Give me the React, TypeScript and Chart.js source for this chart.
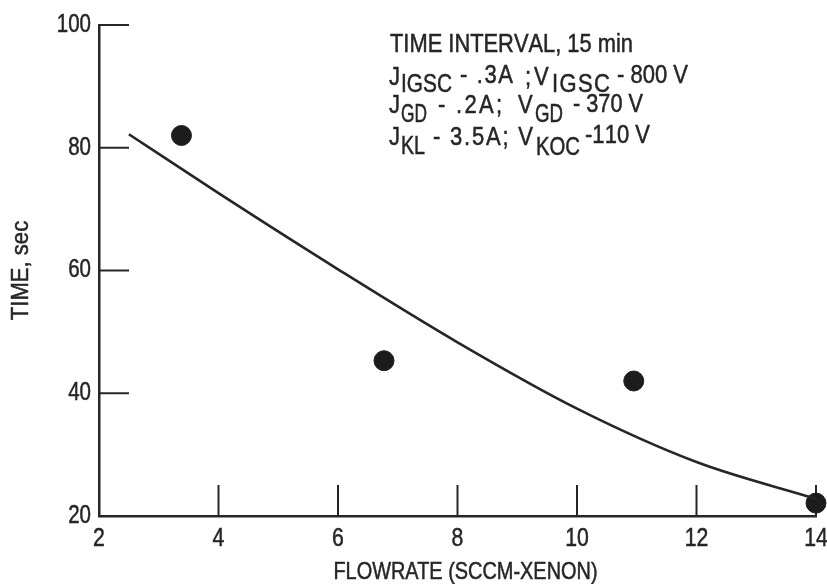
import React, { useEffect, useRef } from 'react';
import { Chart, registerables } from 'chart.js';

Chart.register(...registerables);

// ---- data ----
const measuredFlow = [3.38, 6.77, 10.95, 14.0];
const measuredTime = [82.0, 45.3, 42.0, 22.1];
const fitFlow = [2.5, 4, 6, 8, 10, 12, 14];
const fitTime = [82.2, 72.6, 60.2, 48.3, 37.5, 28.8, 22.8];
const xTicks = [2, 4, 6, 8, 10, 12, 14];
const yTicks = [20, 40, 60, 80, 100];
const xTitle = 'FLOWRATE (SCCM-XENON)';
const yTitle = 'TIME, sec';
// annotation text pieces (main text and subscripts)
const note1 = ['TIME INTERVAL, 15 min'];
const note2 = ['J', 'IGSC', '- .3A', ';', 'V', 'IGSC', '- 800 V'];
const note3 = ['J', 'GD', '- .2A;', 'V', 'GD', '- 370 V'];
const note4 = ['J', 'KL', '- 3.5A; V', 'KOC', '-110 V'];

// layout of annotation pieces: [left, right, baseline] (right = 0 -> natural width)
const noteLayout: number[][][] = [
  [[390, 633, 52]],
  [[389, 0, 85], [401, 452, 92], [460, 513, 83], [525, 0, 85], [534, 0, 85], [552, 610, 92], [617, 688, 83]],
  [[389, 0, 113], [401, 427, 122], [438, 502, 113], [518, 0, 113], [535, 563, 122], [573, 643, 112]],
  [[389, 0, 145], [401, 425, 154], [433, 533, 145], [536, 580, 155], [585, 650, 143]],
];

const INK = '#262626';
const FAMILY = '"Liberation Sans", Arial, sans-serif';
const SX = 0.85;
const NOTE_SX = 0.88;

function drawText(ctx: CanvasRenderingContext2D, text: string, x: number, y: number, size: number, align: CanvasTextAlign, baseline: CanvasTextBaseline = 'alphabetic', sx = SX) {
  ctx.save();
  ctx.font = `${size}px ${FAMILY}`;
  ctx.fillStyle = INK;
  ctx.strokeStyle = INK;
  ctx.lineWidth = 0.5;
  ctx.textAlign = align;
  ctx.textBaseline = baseline;
  ctx.translate(x, y);
  ctx.scale(sx, 1);
  ctx.fillText(text, 0, 0);
  ctx.strokeText(text, 0, 0);
  ctx.restore();
}

function drawSpaced(ctx: CanvasRenderingContext2D, text: string, x0: number, x1: number, y: number, size: number, sx: number) {
  ctx.save();
  ctx.font = `${size}px ${FAMILY}`;
  const chars = Array.from(text);
  const widths = chars.map((c) => ctx.measureText(c).width);
  ctx.restore();
  const natural = widths.reduce((a, b) => a + b, 0) * sx;
  if (!x1 || chars.length < 2) {
    drawText(ctx, text, x0, y, size, 'left', 'alphabetic', sx);
    return;
  }
  let scale = sx;
  let gap = (x1 - x0 - natural) / (chars.length - 1);
  if (gap < 0) {
    scale = sx * (x1 - x0) / natural;
    gap = 0;
  }
  let x = x0;
  chars.forEach((c, k) => {
    if (c !== ' ') drawText(ctx, c, x, y, size, 'left', 'alphabetic', scale);
    x += widths[k] * scale + gap;
  });
}

const decorPlugin = {
  id: 'decor',
  beforeDatasetsDraw(chart: any) {
    const ctx: CanvasRenderingContext2D = chart.ctx;
    const { left, bottom } = chart.chartArea;
    const xs = chart.scales.x;
    const ys = chart.scales.y;
    ctx.save();
    ctx.strokeStyle = INK;
    ctx.lineWidth = 2;
    xTicks.forEach((v) => {
      if (v === xs.min) return;
      const px = xs.getPixelForValue(v);
      ctx.beginPath();
      ctx.moveTo(px, bottom);
      ctx.lineTo(px, bottom - 31);
      ctx.stroke();
    });
    yTicks.forEach((v) => {
      if (v === ys.min) return;
      const py = ys.getPixelForValue(v);
      ctx.beginPath();
      ctx.moveTo(left, py);
      ctx.lineTo(left + 30, py);
      ctx.stroke();
    });
    ctx.restore();
  },
  afterDraw(chart: any) {
    const ctx: CanvasRenderingContext2D = chart.ctx;
    const { left, right, bottom } = chart.chartArea;
    const xs = chart.scales.x;
    const ys = chart.scales.y;
    // tick labels
    xTicks.forEach((v) => {
      drawText(ctx, String(v), xs.getPixelForValue(v), bottom + 23, 25, 'center', 'middle');
    });
    yTicks.forEach((v) => {
      drawText(ctx, String(v), left - 8, ys.getPixelForValue(v), 25, 'right', 'middle', 0.82);
    });
    // axis titles
    drawText(ctx, xTitle, (left + right) / 2 + 8, bottom + 56, 24, 'center', 'middle', 0.83);
    ctx.save();
    ctx.translate(21, ys.getPixelForValue(60));
    ctx.rotate(-Math.PI / 2);
    drawText(ctx, yTitle, 0, 0, 24, 'center', 'middle', 0.92);
    ctx.restore();
    // annotation block
    const lines = [note1, note2, note3, note4];
    lines.forEach((segs, i) => {
      segs.forEach((t, j) => {
        const [x0, x1, y] = noteLayout[i][j];
        drawSpaced(ctx, t, x0, x1, y, 25, NOTE_SX);
      });
    });
  },
};

export default function App() {
  const ref = useRef<HTMLCanvasElement | null>(null);
  useEffect(() => {
    if (!ref.current) return;
    const chart = new Chart(ref.current, {
      type: 'scatter',
      data: {
        datasets: [
          {
            type: 'line',
            data: fitFlow.map((x, i) => ({ x, y: fitTime[i] })),
            borderColor: INK,
            borderWidth: 2.6,
            pointRadius: 0,
            cubicInterpolationMode: 'monotone',
            fill: false,
            clip: false,
          } as any,
          {
            type: 'scatter',
            data: measuredFlow.map((x, i) => ({ x, y: measuredTime[i] })),
            backgroundColor: '#1c1c1c',
            borderColor: '#1c1c1c',
            pointRadius: 10,
            pointHoverRadius: 10,
            clip: false,
          } as any,
        ],
      },
      options: {
        animation: false,
        responsive: false,
        events: [],
        layout: { padding: { left: 0, right: 11, top: 25, bottom: 0 } },
        plugins: { legend: { display: false }, tooltip: { enabled: false } },
        scales: {
          x: {
            type: 'linear',
            min: 2,
            max: 14,
            afterBuildTicks: (s: any) => { s.ticks = xTicks.map((v) => ({ value: v })); },
            afterFit: (s: any) => { s.height = 68; },
            ticks: { display: false },
            grid: { display: true, drawOnChartArea: false, drawTicks: false },
            border: { display: true, color: INK, width: 2.5 },
          },
          y: {
            type: 'linear',
            min: 20,
            max: 100,
            afterBuildTicks: (s: any) => { s.ticks = yTicks.map((v) => ({ value: v })); },
            afterFit: (s: any) => { s.width = 99; },
            ticks: { display: false },
            grid: { display: true, drawOnChartArea: false, drawTicks: false },
            border: { display: true, color: INK, width: 2.5 },
          },
        },
      },
      plugins: [decorPlugin],
    });
    return () => chart.destroy();
  }, []);
  return (
    <div style={{ position: 'absolute', left: 0, top: 0, width: 827, height: 584, background: '#fff' }}>
      <canvas ref={ref} width={827} height={584} style={{ width: 827, height: 584, display: 'block' }} />
    </div>
  );
}
